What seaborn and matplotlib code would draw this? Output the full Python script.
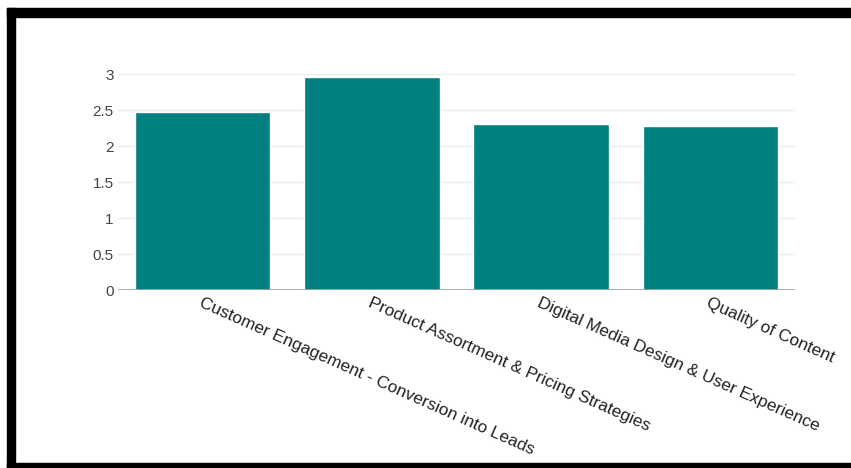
import matplotlib
matplotlib.use("Agg")
import matplotlib.pyplot as plt
from matplotlib.patches import Rectangle
import seaborn as sns
import pandas as pd

categories = [
    "Customer Engagement - Conversion into Leads",
    "Product Assortment & Pricing Strategies",
    "Digital Media Design & User Experience",
    "Quality of Content",
]
values = [2.47, 2.96, 2.31, 2.28]
yticks = [0, 0.5, 1, 1.5, 2, 2.5, 3]
ytick_labels = ["0", "0.5", "1", "1.5", "2", "2.5", "3"]

sns.set_theme(style="white")
plt.rcParams["font.family"] = ["Liberation Sans", "DejaVu Sans"]

W, H = 851, 468
fig = plt.figure(figsize=(W / 100, H / 100), dpi=100)
fig.patch.set_facecolor("white")
ax = fig.add_axes([118 / W, 1 - 290 / H, (795 - 118) / W, (290 - 74) / H])

df = pd.DataFrame({"category": categories, "value": values})
sns.barplot(data=df, x="category", y="value", color="#008080", saturation=1,
            width=0.8, ax=ax, zorder=3)

ax.set_ylim(0, 3)
ax.set_xlim(-0.5, len(categories) - 0.5)
ax.set_yticks(yticks)
ax.set_yticklabels(ytick_labels)
for y in yticks[1:]:
    ax.axhline(y, color="#ebebeb", lw=1, zorder=1)
ax.axhline(0, color="#a0a0a0", lw=1.2, zorder=4)

for s in ax.spines.values():
    s.set_visible(False)
ax.set_xlabel("")
ax.set_ylabel("")
ax.tick_params(axis="y", length=0, pad=3, labelsize=11, labelcolor="#444444")
ax.tick_params(axis="x", length=0, pad=4)
ax.set_xticks(range(len(categories)))
ax.set_xticklabels(categories, rotation=-24, ha="left", va="top",
                   rotation_mode="anchor", fontsize=12.4, color="#222222")

# black frame of the screenshot
fig.patches.append(Rectangle((7 / W, 0), 8 / W, 1 - 8 / H, transform=fig.transFigure,
                             color="black", zorder=10))
fig.patches.append(Rectangle((7 / W, 1 - 17 / H), 1 - 7 / W, 9 / H,
                             transform=fig.transFigure, color="black", zorder=10))
fig.patches.append(Rectangle((7 / W, 0), 1 - 7 / W, 5 / H,
                             transform=fig.transFigure, color="black", zorder=10))

fig.savefig("out.png", dpi=100, facecolor="white")
